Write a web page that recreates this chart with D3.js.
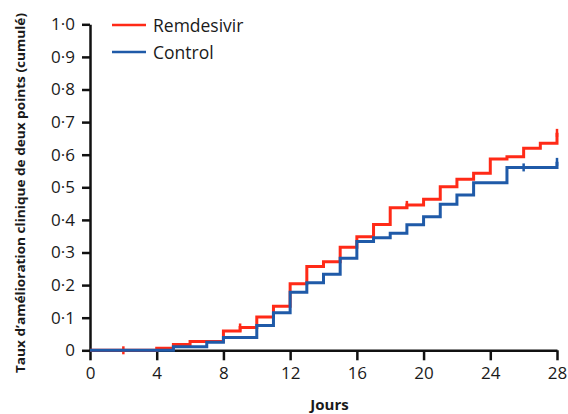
<!DOCTYPE html>
<html>
<head>
<meta charset="utf-8">
<script src="https://cdn.jsdelivr.net/npm/d3@7"></script>
<style>
  body { margin: 0; background: #fff; }
  text { font-family: "Open Sans", sans-serif; fill: #1a1a1a; }
</style>
</head>
<body>
<script>
// step data: day at which the curve steps, cumulative rate after the step
var remDays   = [0, 4, 5, 6, 8, 9, 10, 11, 12, 13, 14, 15, 16, 17, 18, 19, 20, 21, 22, 23, 24, 25, 26, 27, 28];
var remValues = [0, 0.006, 0.018, 0.027, 0.059, 0.070, 0.102, 0.135, 0.204, 0.257, 0.272, 0.316, 0.348, 0.386, 0.437, 0.446, 0.463, 0.502, 0.525, 0.543, 0.587, 0.594, 0.620, 0.635, 0.667];
var ctlDays   = [0, 5, 7, 8, 10, 11, 12, 13, 14, 15, 16, 17, 18, 19, 20, 21, 22, 23, 25, 28];
var ctlValues = [0, 0.011, 0.025, 0.039, 0.076, 0.115, 0.178, 0.207, 0.233, 0.282, 0.334, 0.345, 0.359, 0.385, 0.410, 0.448, 0.476, 0.514, 0.561, 0.578];

// censored observations (tick marks)
var remCensorDays = [2, 9, 19, 28];
var ctlCensorDays = [26, 28];

var xTicks = [0, 4, 8, 12, 16, 20, 24, 28];
var yTicks = [0, 0.1, 0.2, 0.3, 0.4, 0.5, 0.6, 0.7, 0.8, 0.9, 1.0];

var seriesNames = ["Remdesivir", "Control"];
var colors = ["#ff2a17", "#1f5aa8"];

var width = 568, height = 414;
var margin = {top: 24.3, right: 11, bottom: 63.7, left: 90};

var svg = d3.select("body")
    .append("svg")
        .attr("width", width)
        .attr("height", height);

var x = d3.scaleLinear()
    .domain([0, 28])
    .range([margin.left, width - margin.right]);

var y = d3.scaleLinear()
    .domain([0, 1])
    .range([height - margin.bottom, margin.top]);

function fmt(v) {
    return v === 0 ? "0" : d3.format(".1f")(v).replace(".", "\u00b7");
}

// axes
var xAxis = svg.append("g")
    .attr("transform", "translate(0," + y(0) + ")")
    .call(d3.axisBottom(x).tickValues(xTicks).tickSize(10).tickSizeOuter(0).tickPadding(7).tickFormat(d3.format("d")));

var yAxis = svg.append("g")
    .attr("transform", "translate(" + x(0) + ",0)")
    .call(d3.axisLeft(y).tickValues(yTicks).tickSize(8).tickSizeOuter(0).tickPadding(7).tickFormat(fmt));

[xAxis, yAxis].forEach(function(a) {
    a.select(".domain").attr("stroke", "#111").attr("stroke-width", 2.5);
    a.selectAll(".tick line").attr("stroke", "#111").attr("stroke-width", 2.5);
    a.selectAll(".tick text")
        .style("font-family", "'Open Sans', sans-serif")
        .style("font-size", "17px")
        .attr("fill", "#1a1a1a");
});

// curves
var series = [
    {name: seriesNames[0], days: remDays, values: remValues, censor: remCensorDays, color: colors[0]},
    {name: seriesNames[1], days: ctlDays, values: ctlValues, censor: ctlCensorDays, color: colors[1]}
];

var line = d3.line()
    .x(function(d) { return x(d[0]); })
    .y(function(d) { return y(d[1]); })
    .curve(d3.curveStepAfter);

function valueAt(s, day) {
    var v = 0;
    for (var i = 0; i < s.days.length; i++) {
        if (s.days[i] <= day) v = s.values[i];
    }
    return v;
}

series.forEach(function(s) {
    var pts = s.days.map(function(d, i) { return [d, s.values[i]]; });
    svg.append("path")
        .datum(pts)
        .attr("d", line)
        .attr("fill", "none")
        .attr("stroke", s.color)
        .attr("stroke-width", 3);

    svg.selectAll(null)
        .data(s.censor)
        .enter()
        .append("line")
            .attr("x1", function(d) { return x(d); })
            .attr("x2", function(d) { return x(d); })
            .attr("y1", function(d) { return y(valueAt(s, d)) - 4; })
            .attr("y2", function(d) { return y(valueAt(s, d)) + 4; })
            .attr("stroke", s.color)
            .attr("stroke-width", 2.5);
});

// legend
var legend = svg.append("g");
series.forEach(function(s, i) {
    var ly = 25 + i * 27;
    legend.append("line")
        .attr("x1", 112).attr("x2", 146)
        .attr("y1", ly).attr("y2", ly)
        .attr("stroke", s.color)
        .attr("stroke-width", 2.5);
    legend.append("text")
        .attr("x", 153)
        .attr("y", ly + 7)
        .style("font-size", "17.5px")
        .text(s.name);
});

// axis titles
svg.append("text")
    .attr("x", (x(0) + x(28)) / 2 + 6)
    .attr("y", 410)
    .attr("text-anchor", "middle")
    .style("font-size", "15px")
    .style("font-weight", "bold")
    .text("Jours");

svg.append("text")
    .attr("transform", "translate(25,193) rotate(-90)")
    .attr("text-anchor", "middle")
    .attr("textLength", 360)
    .attr("lengthAdjust", "spacingAndGlyphs")
    .style("font-size", "13px")
    .style("font-weight", "bold")
    .text("Taux d\u2019am\u00e9lioration clinique de deux points (cumul\u00e9)");
</script>
</body>
</html>
